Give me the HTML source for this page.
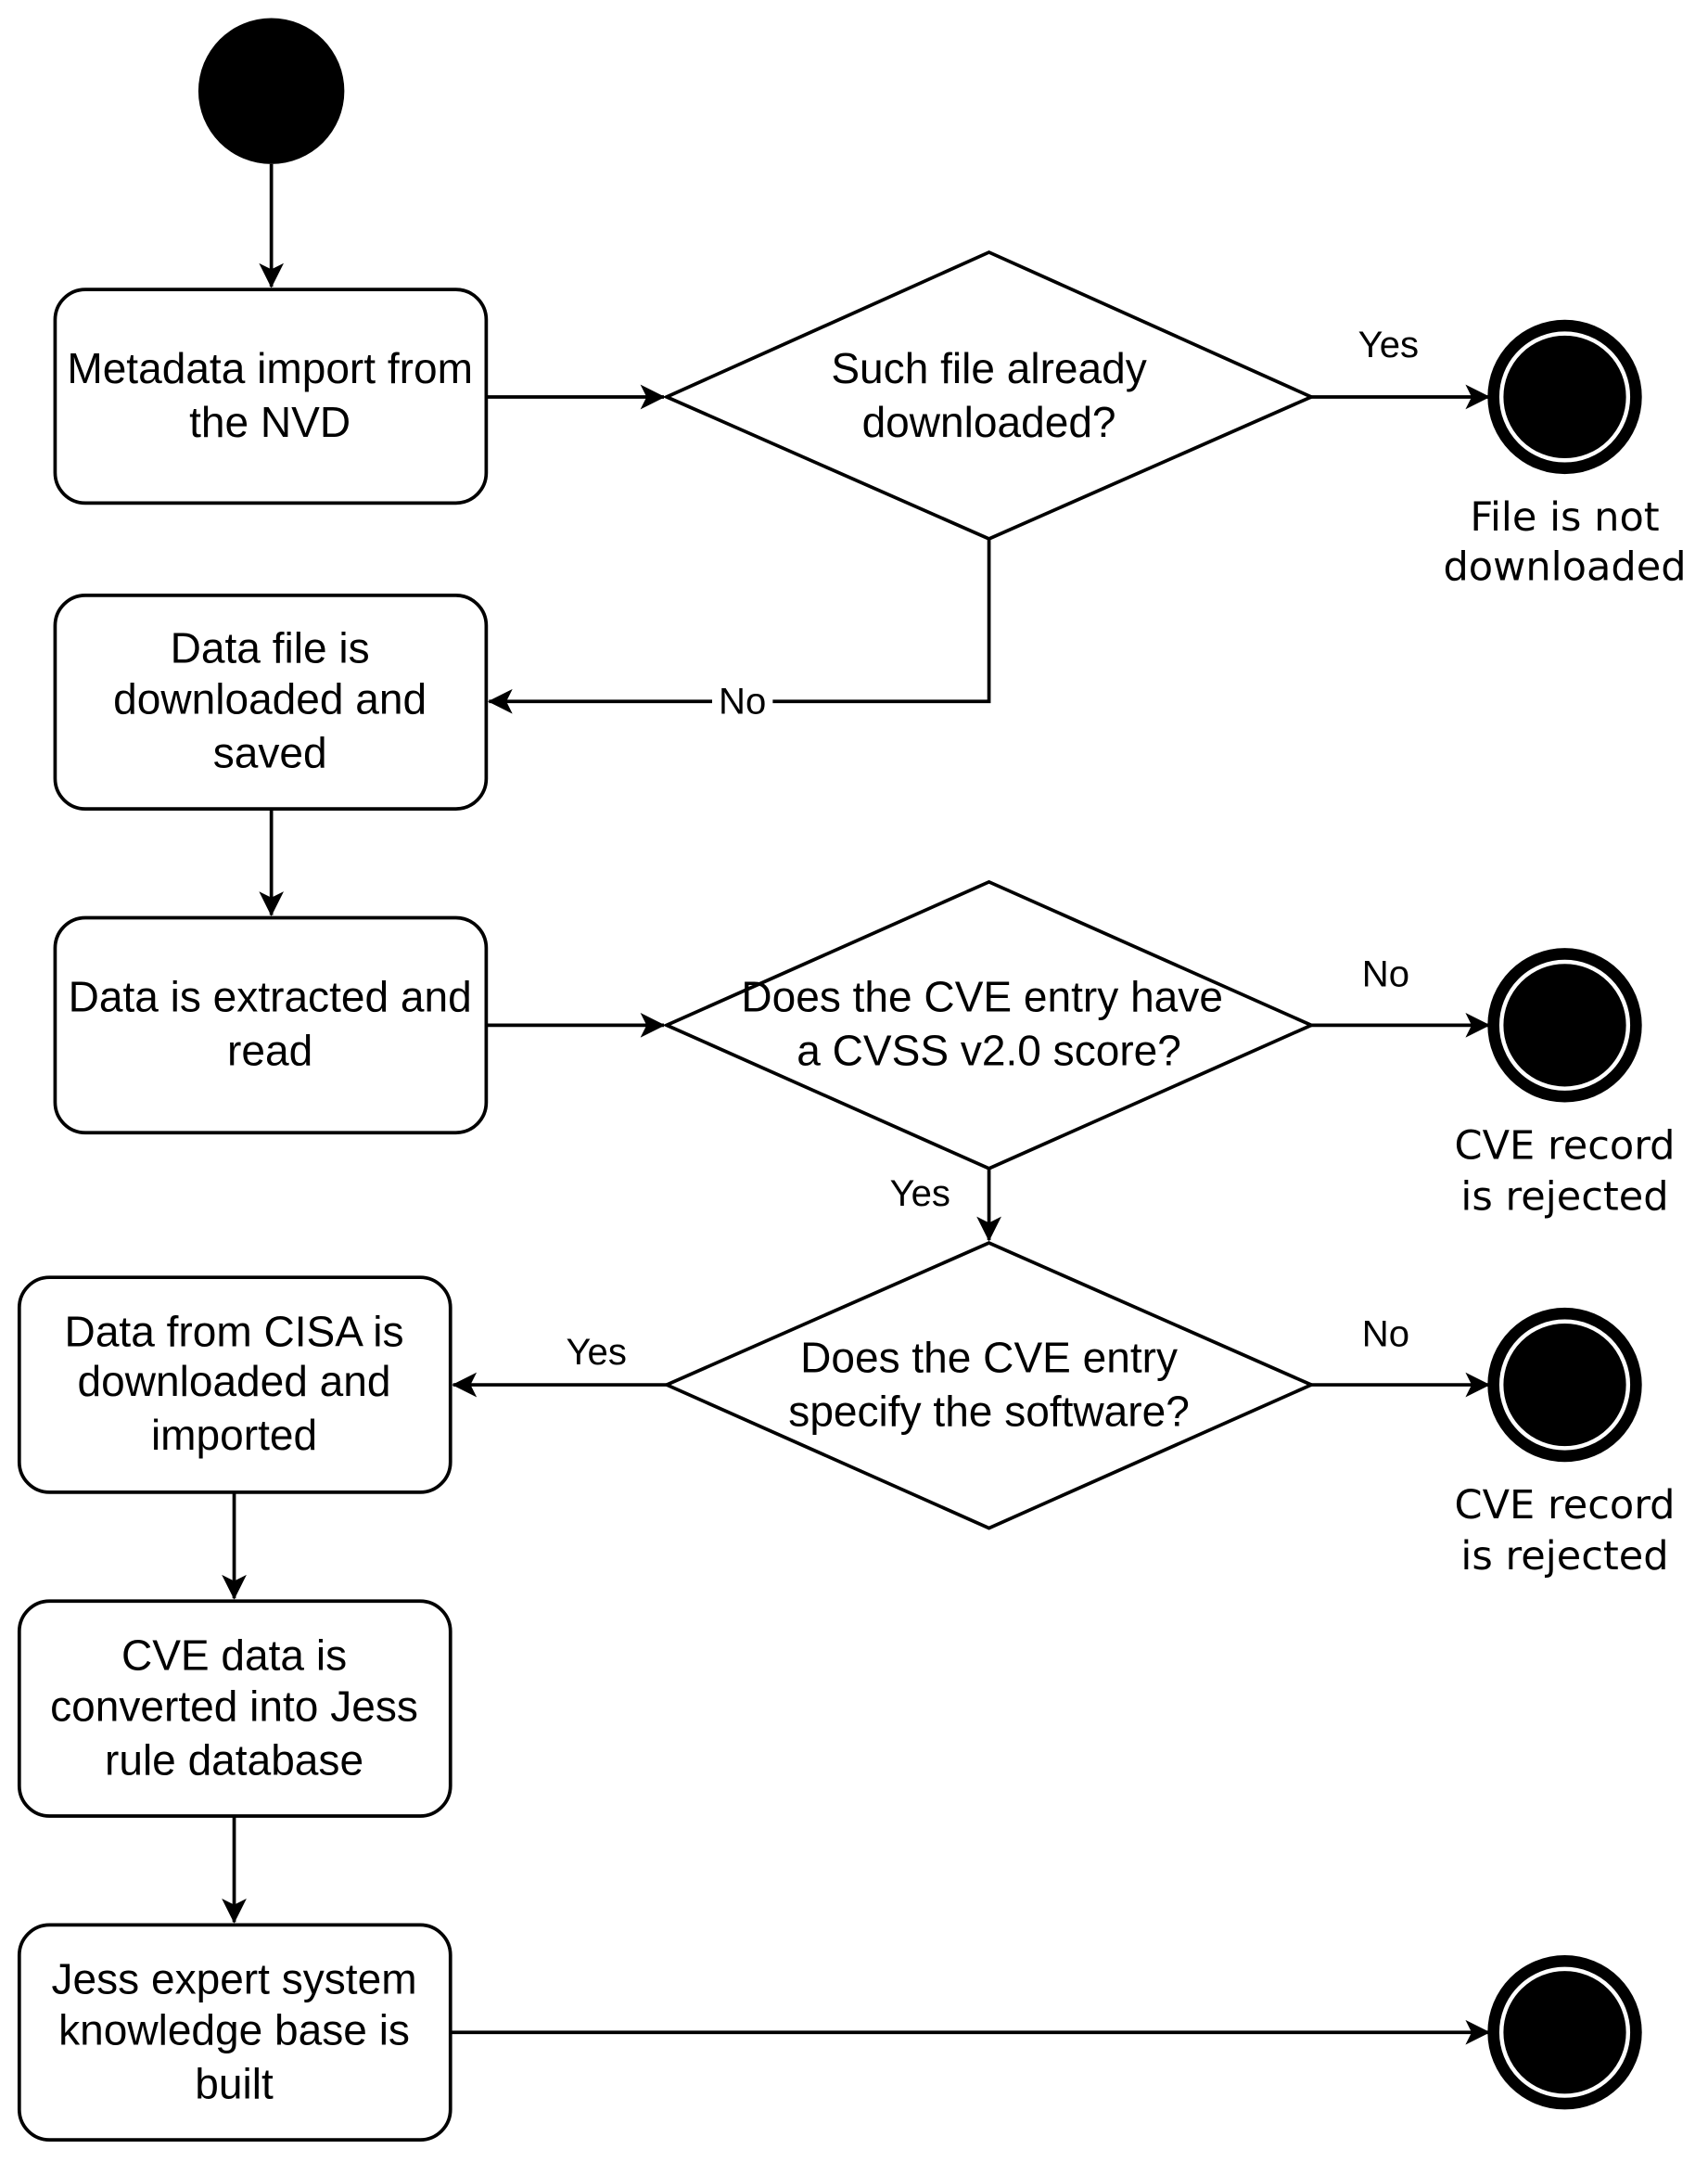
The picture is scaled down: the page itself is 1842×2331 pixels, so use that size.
<!DOCTYPE html>
<html><head><meta charset="utf-8"><style>
html,body{margin:0;padding:0;background:#fff;}
svg{display:block;}
text{font-family:"Liberation Sans",Arial,sans-serif;font-size:31px;fill:#000;text-anchor:middle;}
.d{font-family:"DejaVu Sans",sans-serif;font-size:29px;}
.l{font-size:27px;}
</style></head><body>
<svg width="1842" height="2331" viewBox="0 0 1240 1569" xmlns="http://www.w3.org/2000/svg">
<defs>
<marker id="a" viewBox="0 0 20 20" refX="19" refY="10" markerWidth="18" markerHeight="18" markerUnits="userSpaceOnUse" orient="auto">
<path d="M0,0 L20,10 L0,20 L5,10 Z" fill="#000"/></marker>
</defs>
<g stroke="#000" stroke-width="2.5" fill="none">
<line x1="197" y1="119" x2="197" y2="208" marker-end="url(#a)"/>
<line x1="353" y1="288" x2="482" y2="288" marker-end="url(#a)"/>
<line x1="952" y1="288" x2="1081" y2="288" marker-end="url(#a)"/>
<polyline points="718,391 718,509 355,509" marker-end="url(#a)"/>
<line x1="197" y1="587" x2="197" y2="664" marker-end="url(#a)"/>
<line x1="353" y1="744" x2="482" y2="744" marker-end="url(#a)"/>
<line x1="952" y1="744" x2="1081" y2="744" marker-end="url(#a)"/>
<line x1="718" y1="848" x2="718" y2="900" marker-end="url(#a)"/>
<line x1="484" y1="1005" x2="329" y2="1005" marker-end="url(#a)"/>
<line x1="952" y1="1005" x2="1081" y2="1005" marker-end="url(#a)"/>
<line x1="170" y1="1083" x2="170" y2="1160" marker-end="url(#a)"/>
<line x1="170" y1="1318" x2="170" y2="1395" marker-end="url(#a)"/>
<line x1="327" y1="1475" x2="1081" y2="1475" marker-end="url(#a)"/>
<rect x="40" y="210" width="313" height="155" rx="22" fill="#fff"/>
<rect x="40" y="432" width="313" height="155" rx="22" fill="#fff"/>
<rect x="40" y="666" width="313" height="156" rx="22" fill="#fff"/>
<rect x="14" y="927" width="313" height="156" rx="22" fill="#fff"/>
<rect x="14" y="1162" width="313" height="156" rx="22" fill="#fff"/>
<rect x="14" y="1397" width="313" height="156" rx="22" fill="#fff"/>
<polygon points="484,288 718,183 952,288 718,391" fill="#fff"/>
<polygon points="484,744 718,640 952,744 718,848" fill="#fff"/>
<polygon points="484,1005 718,902 952,1005 718,1109" fill="#fff"/>
</g>
<circle cx="197" cy="66" r="53" fill="#000"/>
<g>
<circle cx="1136" cy="288" r="56" fill="#000"/><circle cx="1136" cy="288" r="46" fill="none" stroke="#fff" stroke-width="3"/>
<circle cx="1136" cy="744" r="56" fill="#000"/><circle cx="1136" cy="744" r="46" fill="none" stroke="#fff" stroke-width="3"/>
<circle cx="1136" cy="1005" r="56" fill="#000"/><circle cx="1136" cy="1005" r="46" fill="none" stroke="#fff" stroke-width="3"/>
<circle cx="1136" cy="1475" r="56" fill="#000"/><circle cx="1136" cy="1475" r="46" fill="none" stroke="#fff" stroke-width="3"/>
</g>
<text x="196" y="278">Metadata import from</text>
<text x="196" y="317">the NVD</text>
<text x="196" y="481">Data file is</text>
<text x="196" y="518">downloaded and</text>
<text x="196" y="557">saved</text>
<text x="196" y="734">Data is extracted and</text>
<text x="196" y="773">read</text>
<text x="170" y="977">Data from CISA is</text>
<text x="170" y="1013">downloaded and</text>
<text x="170" y="1052">imported</text>
<text x="170" y="1212">CVE data is</text>
<text x="170" y="1249">converted into Jess</text>
<text x="170" y="1288">rule database</text>
<text x="170" y="1447">Jess expert system</text>
<text x="170" y="1484">knowledge base is</text>
<text x="170" y="1523">built</text>
<text x="718" y="278">Such file already</text>
<text x="718" y="317">downloaded?</text>
<text x="713" y="734">Does the CVE entry have</text>
<text x="718" y="773">a CVSS v2.0 score?</text>
<text x="718" y="996">Does the CVE entry</text>
<text x="718" y="1035">specify the software?</text>
<text class="l" x="1008" y="259">Yes</text>
<rect x="517" y="494" width="44" height="30" fill="#fff"/>
<text class="l" x="539" y="518">No</text>
<text class="l" x="1006" y="716">No</text>
<text class="l" x="668" y="875">Yes</text>
<text class="l" x="433" y="990">Yes</text>
<text class="l" x="1006" y="977">No</text>
<text class="d" x="1136" y="385">File is not</text>
<text class="d" x="1136" y="421">downloaded</text>
<text class="d" x="1136" y="841">CVE record</text>
<text class="d" x="1136" y="878">is rejected</text>
<text class="d" x="1136" y="1102">CVE record</text>
<text class="d" x="1136" y="1139">is rejected</text>
</svg>
</body></html>
